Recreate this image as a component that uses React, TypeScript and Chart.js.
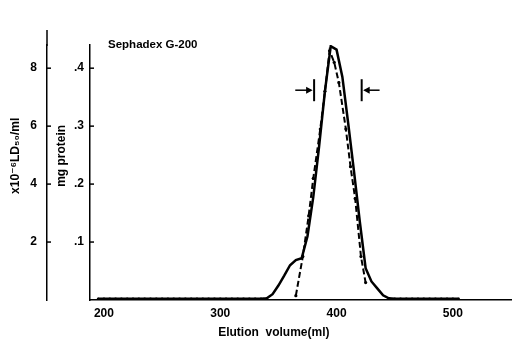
import React, { useEffect, useRef } from "react";
import { Chart, registerables } from "chart.js";

Chart.register(...registerables);

const FONT = "'Liberation Sans', 'DejaVu Sans', Arial, sans-serif";

// Protein (mg) per fraction, solid line
const proteinVolume = [
  195, 200, 205, 210, 215, 220, 225, 230, 235, 240, 245, 250, 255, 260, 265,
  270, 275, 280, 285, 290, 295, 300, 305, 310, 315, 320, 325, 330, 335, 340,
  345, 350, 355, 360, 365, 370, 375, 380, 385, 390, 395, 400, 405, 410, 415,
  420, 425, 430, 435, 440, 445, 450, 455, 460, 465, 470, 475, 480, 485, 490,
  495, 500, 505,
];
const proteinMg = [
  0.002, 0.002, 0.002, 0.002, 0.002, 0.002, 0.002, 0.002, 0.002, 0.002, 0.002,
  0.002, 0.002, 0.002, 0.002, 0.002, 0.002, 0.002, 0.002, 0.002, 0.002, 0.002,
  0.002, 0.002, 0.002, 0.002, 0.002, 0.002, 0.002, 0.003, 0.01, 0.025, 0.042,
  0.06, 0.069, 0.072, 0.11, 0.178, 0.265, 0.36, 0.438, 0.432, 0.385, 0.305,
  0.222, 0.135, 0.055, 0.032, 0.02, 0.008, 0.003, 0.002, 0.002, 0.002, 0.002,
  0.002, 0.002, 0.002, 0.002, 0.002, 0.002, 0.002, 0.002,
];

// LD50 activity (x10^-6 LD50/ml), dashed line
const ldVolume = [365, 371, 376, 380, 386, 390, 394, 398, 402, 408, 412, 416, 421, 425];
const ldValue = [0.15, 1.5, 2.9, 4.2, 5.9, 7.2, 8.6, 8.2, 7.5, 5.9, 4.6, 3.5, 1.5, 0.6];

const xTicks = [200, 300, 400, 500];
const proteinTicks = [0.1, 0.2, 0.3, 0.4];
const ldTicks = [2, 4, 6, 8];

const chartLabel = "Sephadex G-200";
const labelVolume = 203.5;
const labelLevel = 0.44;

const markerVolumes = [380.7, 421.6];
const markerTails = [364.5, 437];
const markerLevel = 0.362;

const annotate = {
  id: "annotate",
  afterDraw(chart: any) {
    const { ctx, scales, chartArea } = chart;
    const x = scales.x;
    const y = scales.y;
    const yl = scales.yLd;
    ctx.save();
    ctx.fillStyle = "#000";
    ctx.strokeStyle = "#000";
    ctx.font = `bold 11.5px ${FONT}`;
    ctx.textBaseline = "middle";
    ctx.textAlign = "left";
    ctx.fillText(chartLabel, x.getPixelForValue(labelVolume), y.getPixelForValue(labelLevel));

    const my = y.getPixelForValue(markerLevel);
    markerVolumes.forEach((v, i) => {
      const bx = x.getPixelForValue(v);
      const tx = x.getPixelForValue(markerTails[i]);
      const dir = Math.sign(bx - tx);
      ctx.lineWidth = 2;
      ctx.beginPath();
      ctx.moveTo(bx, my - 11);
      ctx.lineTo(bx, my + 11);
      ctx.stroke();
      ctx.lineWidth = 1.5;
      ctx.beginPath();
      ctx.moveTo(tx, my);
      ctx.lineTo(bx - dir * 3, my);
      ctx.stroke();
      ctx.beginPath();
      ctx.moveTo(bx - dir * 1.5, my);
      ctx.lineTo(bx - dir * 8, my - 3.5);
      ctx.lineTo(bx - dir * 8, my + 3.5);
      ctx.closePath();
      ctx.fill();
    });

    // inward tick marks on both value axes
    ctx.lineWidth = 1.5;
    [yl, y].forEach((s: any) => {
      s.ticks.forEach((t: any) => {
        const py = s.getPixelForValue(t.value);
        ctx.beginPath();
        ctx.moveTo(s.right, py);
        ctx.lineTo(s.right + 4, py);
        ctx.stroke();
      });
    });

    ctx.lineWidth = 1.5;
    ctx.beginPath();
    ctx.moveTo(yl.right, chartArea.top + 1);
    ctx.lineTo(yl.right, chartArea.top - 15);
    ctx.stroke();
    ctx.restore();
  },
};

export default function App() {
  const ref = useRef<HTMLCanvasElement | null>(null);

  useEffect(() => {
    if (!ref.current) return;
    const tickFont = { family: FONT, size: 12, weight: "bold" as const };
    const titleFont = { family: FONT, size: 12, weight: "bold" as const };
    const chart = new Chart(ref.current, {
      type: "line",
      data: {
        datasets: [
          {
            label: "mg protein",
            data: proteinVolume.map((v, i) => ({ x: v, y: proteinMg[i] })),
            yAxisID: "y",
            borderColor: "#000",
            backgroundColor: "#000",
            borderWidth: 2.5,
            pointRadius: (c: any) => (c.raw && c.raw.y < 0.005 ? 1.3 : 0),
            pointBorderWidth: 0,
            tension: 0,
          },
          {
            label: "LD50/ml",
            data: ldVolume.map((v, i) => ({ x: v, y: ldValue[i] })),
            yAxisID: "yLd",
            borderColor: "#000",
            backgroundColor: "#000",
            borderWidth: 2,
            borderDash: [6, 3],
            pointRadius: 1.6,
            pointBorderWidth: 0,
            tension: 0,
          },
        ],
      },
      options: {
        responsive: false,
        animation: false,
        layout: { padding: { top: 45, left: 0, right: 0, bottom: 0 } },
        plugins: { legend: { display: false }, tooltip: { enabled: false } },
        scales: {
          x: {
            type: "linear",
            min: 188,
            max: 550,
            afterBuildTicks: (s: any) => {
              s.ticks = xTicks.map((v) => ({ value: v }));
            },
            afterFit: (s: any) => {
              s.height = 40;
            },
            grid: { display: false, drawTicks: false },
            border: { display: true, color: "#000", width: 1.5 },
            ticks: { color: "#000", font: tickFont, padding: 6, maxRotation: 0 },
            title: {
              display: true,
              text: "Elution  volume(ml)                ",
              color: "#000",
              font: titleFont,
              padding: { top: 0, bottom: 0 },
            },
          },
          yLd: {
            type: "linear",
            position: "left",
            weight: 1,
            min: 0,
            max: 8.8,
            afterBuildTicks: (s: any) => {
              s.ticks = ldTicks.map((v) => ({ value: v }));
            },
            afterFit: (s: any) => {
              s.width = 47;
            },
            grid: { display: false, drawTicks: false },
            border: { display: true, color: "#000", width: 1.5 },
            ticks: { color: "#000", font: tickFont, padding: 10 },
            title: {
              display: true,
              text: "          x10⁻⁶LD₅₀/ml",
              color: "#000",
              font: titleFont,
              padding: { top: 8, bottom: 0 },
            },
          },
          y: {
            type: "linear",
            position: "left",
            weight: 0,
            min: 0,
            max: 0.44,
            afterBuildTicks: (s: any) => {
              s.ticks = proteinTicks.map((v) => ({ value: v }));
            },
            afterFit: (s: any) => {
              s.width = 43;
            },
            grid: { display: false, drawTicks: false },
            border: { display: true, color: "#000", width: 1.5 },
            ticks: {
              color: "#000",
              font: tickFont,
              padding: 6,
              callback: (v: any) => "." + Math.round(Number(v) * 10),
            },
            title: {
              display: true,
              text: "          mg protein",
              color: "#000",
              font: titleFont,
              padding: { top: 7, bottom: 0 },
            },
          },
        },
      },
      plugins: [annotate],
    });
    return () => chart.destroy();
  }, []);

  return (
    <canvas
      ref={ref}
      width={515}
      height={340}
      style={{ position: "absolute", left: 0, top: 0, width: 515, height: 340, background: "#fff" }}
    />
  );
}
